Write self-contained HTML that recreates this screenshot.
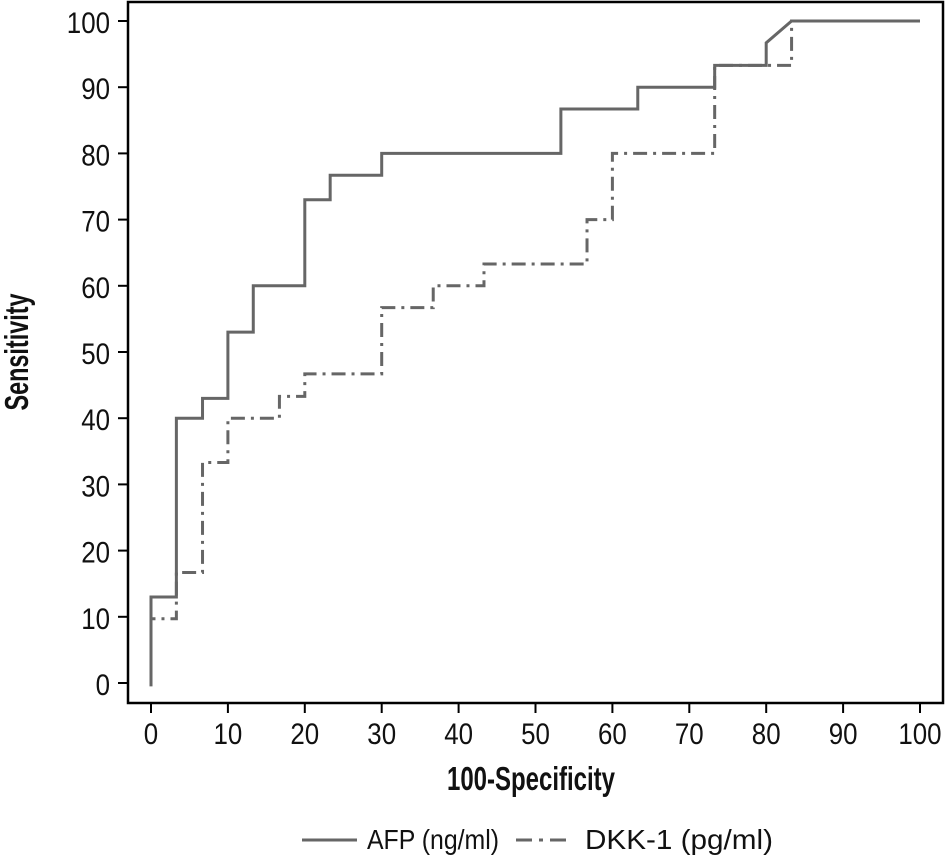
<!DOCTYPE html>
<html><head><meta charset="utf-8"><style>
body{margin:0;background:#fff;}
svg text{font-family:"Liberation Sans Narrow","Liberation Sans",sans-serif;fill:#111;}
</style></head><body>
<svg id="chart" width="946" height="855" xmlns="http://www.w3.org/2000/svg">
<rect x="128" y="2" width="815" height="701" fill="none" stroke="#000" stroke-width="2.5"/>
<g id="ticks"></g>
<g id="series"></g>
<text x="531" y="790" font-size="33" font-weight="bold" text-anchor="middle" textLength="168" lengthAdjust="spacingAndGlyphs">100-Specificity</text>
<text transform="translate(28,352) rotate(-90)" font-size="33" font-weight="bold" text-anchor="middle" textLength="117" lengthAdjust="spacingAndGlyphs">Sensitivity</text>
<g>
<line x1="302" y1="840" x2="357" y2="840" stroke="#666" stroke-width="3"/>
<text x="367" y="849" font-size="28" textLength="132" lengthAdjust="spacingAndGlyphs">AFP (ng/ml)</text>
<line x1="516" y1="840" x2="570" y2="840" stroke="#666" stroke-width="3" stroke-dasharray="16,7,4,7"/>
<text x="585" y="849" font-size="28" textLength="188" lengthAdjust="spacingAndGlyphs">DKK-1 (pg/ml)</text>
</g>
</svg>
<script>
const xTicks=[0,10,20,30,40,50,60,70,80,90,100];
const yTicks=[0,10,20,30,40,50,60,70,80,90,100];
const afpX=[0,0,3.3,3.3,6.7,6.7,10,10,13.3,13.3,20,20,23.3,23.3,30,30,53.3,53.3,63.3,63.3,73.3,73.3,80,80,83.3,100];
const afpY=[-0.5,13,13,40,40,43,43,53,53,60,60,73,73,76.7,76.7,80,80,86.7,86.7,90,90,93.3,93.3,96.7,100,100];
const dkkX=[0,0,3.3,3.3,6.7,6.7,10,10,16.7,16.7,20,20,30,30,36.7,36.7,43.3,43.3,56.7,56.7,60,60,73.3,73.3,83.3,83.3,100];
const dkkY=[-0.5,9.7,9.7,16.7,16.7,33.3,33.3,40,40,43.3,43.3,46.7,46.7,56.7,56.7,60,60,63.3,63.3,70,70,80,80,93.3,93.3,100,100];
const sx=v=>151+v*7.69, sy=v=>683-v*6.62;
const NS="http://www.w3.org/2000/svg";
const tg=document.getElementById('ticks'), sg=document.getElementById('series');
function mk(t,a,p){const e=document.createElementNS(NS,t);for(const k in a)e.setAttribute(k,a[k]);p.appendChild(e);return e;}
function lw(v){return String(v).length*14.4;}
xTicks.forEach(v=>{
 const l=mk('line',{x1:sx(v),x2:sx(v),y1:703,y2:713,stroke:'#000','stroke-width':2},tg);
 
 
 const t=mk('text',{x:sx(v),y:744,'font-size':30,'text-anchor':'middle',textLength:lw(v),lengthAdjust:'spacingAndGlyphs'},tg);t.textContent=v;
 
 
});
yTicks.forEach(v=>{
 const l=mk('line',{x1:118,x2:128,y1:sy(v),y2:sy(v),stroke:'#000','stroke-width':2},tg);
 
 
 const t=mk('text',{x:110,y:sy(v)+12,'font-size':30,'text-anchor':'end',textLength:lw(v),lengthAdjust:'spacingAndGlyphs'},tg);t.textContent=v;
 
 
});
function pts(X,Y){return X.map((x,i)=>sx(x)+','+sy(Y[i])).join(' ');}
const d=mk('polyline',{points:pts(dkkX,dkkY),fill:'none',stroke:'#666','stroke-width':3,'stroke-dasharray':'14,6,3,6'},sg);


const a=mk('polyline',{points:pts(afpX,afpY),fill:'none',stroke:'#666','stroke-width':3},sg);


</script>
</body></html>
